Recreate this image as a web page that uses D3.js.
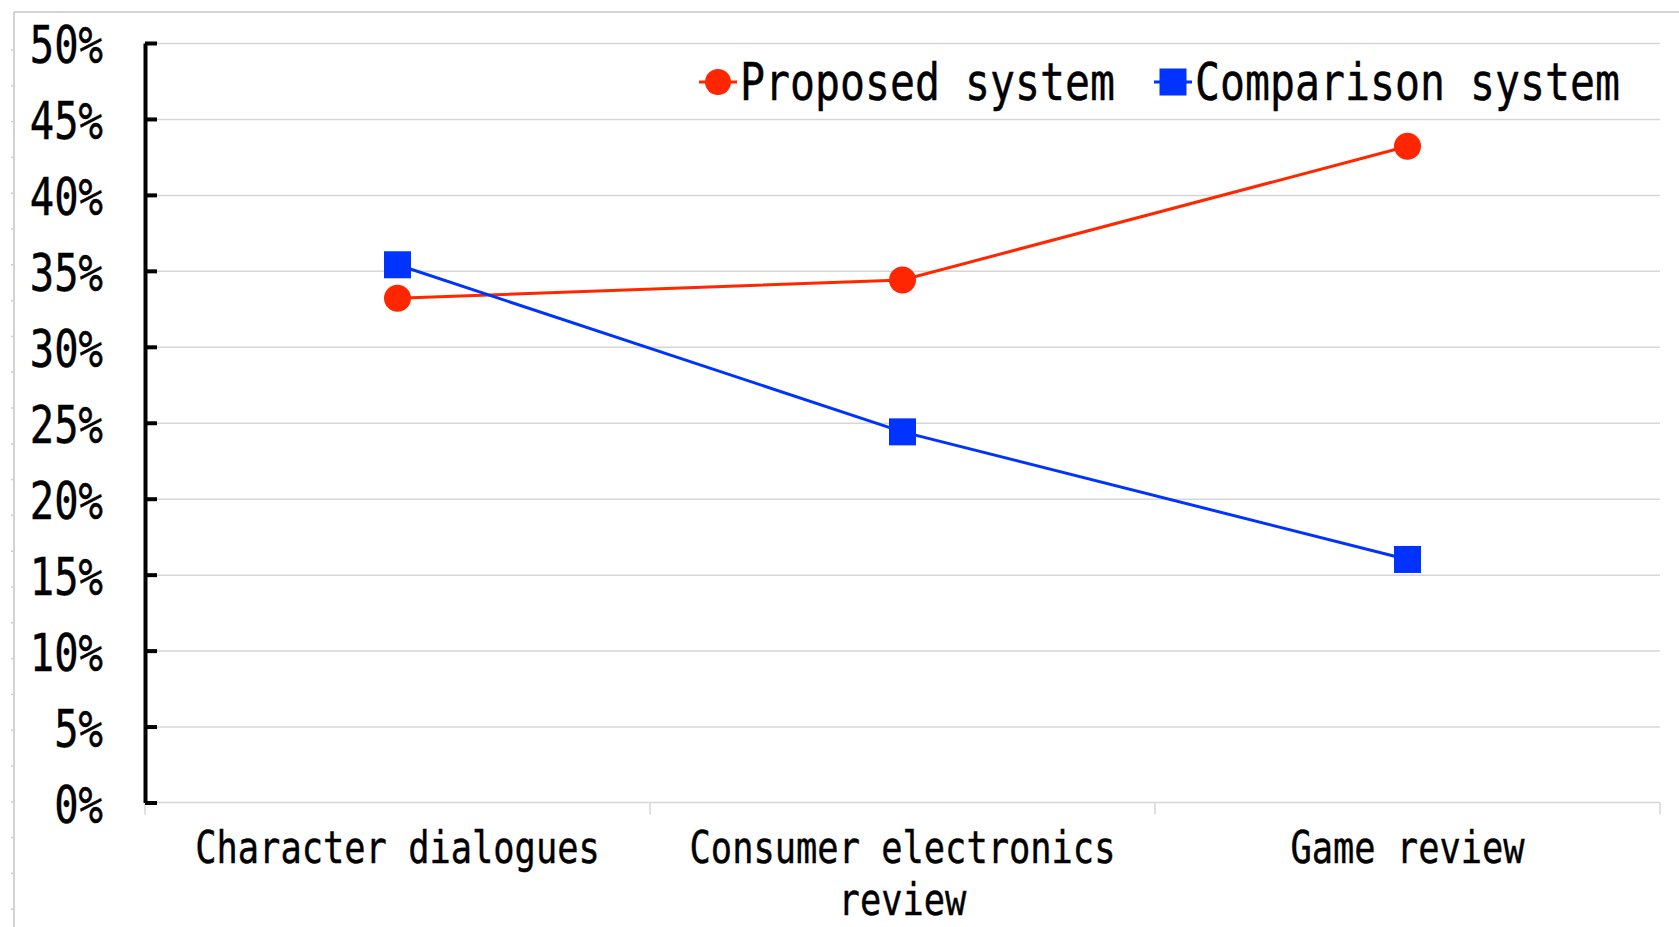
<!DOCTYPE html>
<html>
<head>
<meta charset="utf-8">
<script src="https://cdn.jsdelivr.net/npm/d3@7"></script>
<style>
  html, body { margin: 0; padding: 0; background: #fff; }
  svg { display: block; }
  text { font-family: "DejaVu Sans Mono", "Liberation Mono", monospace; fill: #000; stroke: #000; stroke-width: 0.35; }
</style>
</head>
<body>
<svg id="chart" width="1679" height="927"></svg>
<script>
// Categories and series values (share of responses)
const categories = ["Character dialogues", "Consumer electronics review", "Game review"];
const proposedValues = [0.332, 0.344, 0.432];
const comparisonValues = [0.354, 0.244, 0.160];
const yTickValues = [0, 0.05, 0.10, 0.15, 0.20, 0.25, 0.30, 0.35, 0.40, 0.45, 0.50];
const seriesNames = ["Proposed system", "Comparison system"];

const W = 1679, H = 927;
const plot = { left: 145, right: 1660, top: 43, bottom: 802.5 };
const RED = "#ff2600", BLUE = "#0033ff", GRID = "#d6d6d6";

// DejaVu Sans Mono metrics (per em)
const ADV = 0.602, CAP = 0.729;

const svg = d3.select("#chart");

// Narrow, tall monospaced text: font size from the character advance,
// then stretched vertically to the wanted cap height.
function monoText(parent, str, px, py, advance, capHeight, anchor) {
  const fs = advance / ADV;
  const sy = capHeight / (CAP * fs);
  return parent.append("text")
    .attr("transform", `translate(${px},${py}) scale(1,${sy.toFixed(4)})`)
    .attr("font-size", fs.toFixed(2))
    .attr("text-anchor", anchor || "start")
    .text(str);
}

// Outer frame
const frame = svg.append("g").attr("stroke", "#c4c4c4").attr("stroke-width", 1.5);
frame.append("line").attr("x1", 14).attr("x2", W).attr("y1", 12).attr("y2", 12);
frame.append("line").attr("x1", 14).attr("x2", 14).attr("y1", 12).attr("y2", H);
frame.selectAll("line.mark").data(d3.range(50, H, 35.8)).join("line")
  .attr("class", "mark").attr("x1", 11).attr("x2", 14)
  .attr("y1", d => d).attr("y2", d => d).attr("stroke", "#d0d0d0");

const y = d3.scaleLinear().domain([0, 0.5]).range([plot.bottom, plot.top]);
const x = d3.scaleBand().domain(categories).range([plot.left, plot.right]);
const cx = c => x(c) + x.bandwidth() / 2;

// Horizontal gridlines
svg.append("g")
  .attr("transform", `translate(${plot.left},0)`)
  .call(d3.axisLeft(y).tickValues(yTickValues.slice(1)).tickSize(-(plot.right - plot.left)).tickFormat(""))
  .call(g => g.select(".domain").remove())
  .call(g => g.selectAll(".tick line").attr("stroke", GRID).attr("stroke-width", 1.5));

// Category axis: baseline and boundary ticks
const xAxis = svg.append("g").attr("stroke", GRID).attr("stroke-width", 1.5);
xAxis.append("line").attr("x1", plot.left).attr("x2", plot.right)
  .attr("y1", plot.bottom).attr("y2", plot.bottom);
const bounds = categories.map(c => x(c)).concat([x.range()[1]]);
xAxis.selectAll("line.b").data(bounds).join("line").attr("class", "b")
  .attr("x1", d => d).attr("x2", d => d)
  .attr("y1", plot.bottom).attr("y2", plot.bottom + 12);

// Category labels, wrapped to the band width
const xAdvance = 21.3;
const maxChars = Math.floor(x.bandwidth() / xAdvance);
function wrap(label) {
  const words = label.split(" ");
  const lines = [];
  let cur = "";
  words.forEach(w => {
    const next = cur ? cur + " " + w : w;
    if (next.length > maxChars && cur) { lines.push(cur); cur = w; }
    else cur = next;
  });
  if (cur) lines.push(cur);
  return lines;
}
const xLabels = svg.append("g");
categories.forEach(c => {
  wrap(c).forEach((line, i) => {
    monoText(xLabels, line, cx(c), 863 + i * 52, xAdvance, 33, "middle");
  });
});

// Value axis with inward ticks
const yAxis = svg.append("g")
  .attr("transform", `translate(${plot.left},0)`)
  .call(d3.axisLeft(y).tickValues(yTickValues).tickSizeInner(-12).tickSizeOuter(0)
    .tickFormat(""));
yAxis.select(".domain").attr("stroke", "#000").attr("stroke-width", 4);
yAxis.selectAll(".tick line").attr("stroke", "#000").attr("stroke-width", 4);
const fmt = d3.format(".0%");
yAxis.selectAll(".tick").each(function (d) {
  monoText(d3.select(this), fmt(d), -42, 19.5, 24.4, 38, "end");
});

// Series lines and markers
const line = d3.line().x((d, i) => cx(categories[i])).y(d => y(d));

svg.append("path").datum(proposedValues)
  .attr("d", line).attr("fill", "none").attr("stroke", RED).attr("stroke-width", 3);
svg.append("path").datum(comparisonValues)
  .attr("d", line).attr("fill", "none").attr("stroke", BLUE).attr("stroke-width", 3);

const markSize = 27;
svg.append("g").selectAll("circle").data(proposedValues).join("circle")
  .attr("cx", (d, i) => cx(categories[i])).attr("cy", d => y(d))
  .attr("r", markSize / 2).attr("fill", RED);
svg.append("g").selectAll("rect").data(comparisonValues).join("rect")
  .attr("x", (d, i) => cx(categories[i]) - markSize / 2).attr("y", d => y(d) - markSize / 2)
  .attr("width", markSize).attr("height", markSize).attr("fill", BLUE);

// Legend
const legendItems = [
  { name: seriesNames[0], color: RED, shape: "circle", mx: 718, tx: 740 },
  { name: seriesNames[1], color: BLUE, shape: "square", mx: 1173, tx: 1195 }
];
const legend = svg.append("g");
legendItems.forEach(it => {
  const ly = 82;
  legend.append("line").attr("x1", it.mx - 19).attr("x2", it.mx + 19)
    .attr("y1", ly).attr("y2", ly).attr("stroke", it.color).attr("stroke-width", 3);
  if (it.shape === "circle") {
    legend.append("circle").attr("cx", it.mx).attr("cy", ly).attr("r", 13).attr("fill", it.color);
  } else {
    legend.append("rect").attr("x", it.mx - 13.5).attr("y", ly - 13.5)
      .attr("width", 27).attr("height", 27).attr("fill", it.color);
  }
  monoText(legend, it.name, it.tx, 100, 25, 38, "start");
});
</script>
</body>
</html>
